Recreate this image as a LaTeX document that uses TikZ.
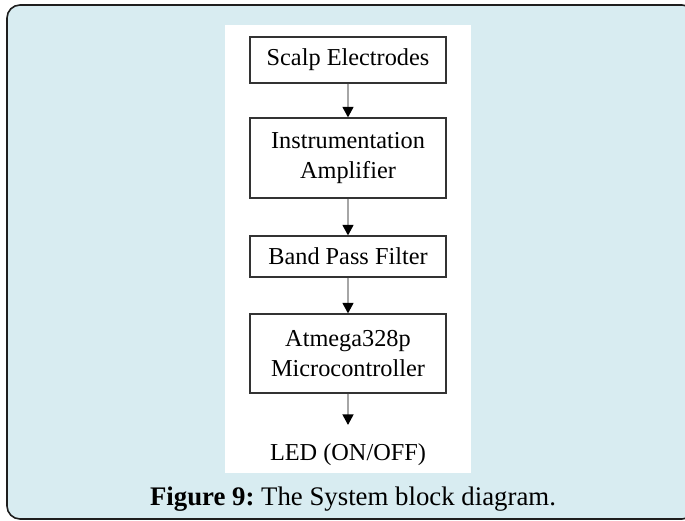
\documentclass[tikz,border=0pt]{standalone}
\usepackage{fontspec}
\setmainfont{Liberation Serif}
\usetikzlibrary{arrows.meta}
\definecolor{panelblue}{HTML}{D8ECF1}
\definecolor{framegray}{HTML}{1E1E1E}
\definecolor{boxgray}{HTML}{333333}
\definecolor{linegray}{HTML}{A6A6A6}
\begin{document}
\begin{tikzpicture}[x=1pt,y=-1pt,
  blockbox/.style={draw=boxgray,line width=1.2pt,fill=white,minimum width=196pt,
    align=center,font=\fontsize{24.3}{29.5}\selectfont,inner sep=0pt},
  flow/.style={draw=linegray,line width=1.3pt,
    -{Triangle[width=11pt,length=10.5pt,color=black]}},
  caption/.style={font=\fontsize{26.8}{30}\selectfont,inner sep=0pt}]
  \useasboundingbox (0,0) rectangle (685,521);
  % outer frame of the figure
  \fill[panelblue,rounded corners=13pt] (7,5) rectangle (695,519);
  \draw[framegray,line width=1.6pt,rounded corners=13pt] (7,5) rectangle (695,519);
  % white drawing panel
  \fill[white] (225,25) rectangle (471,473);
  % blocks
  \node[blockbox,minimum height=46pt] (elec) at (348,60) {Scalp Electrodes};
  \node[blockbox,minimum height=80pt] (amp) at (348,158) {Instrumentation\\Amplifier};
  \node[blockbox,minimum height=41pt] (bpf) at (348,256.5) {Band Pass Filter};
  \node[blockbox,minimum height=79pt] (mcu) at (348,353.5) {Atmega328p\\Microcontroller};
  \node[font=\fontsize{24.3}{29.5}\selectfont,anchor=base,inner xsep=0pt,inner ysep=18pt] (led) at (348,460) {LED (ON/OFF)};
  % connectors
  \draw[flow] (elec) -- (amp);
  \draw[flow] (amp) -- (bpf);
  \draw[flow] (bpf) -- (mcu);
  \draw[flow] (mcu) -- (led);
  % caption
  \node[caption,anchor=base] (cap) at (353,505) {\textbf{Figure 9:}~The System block diagram.};
\end{tikzpicture}
\end{document}
